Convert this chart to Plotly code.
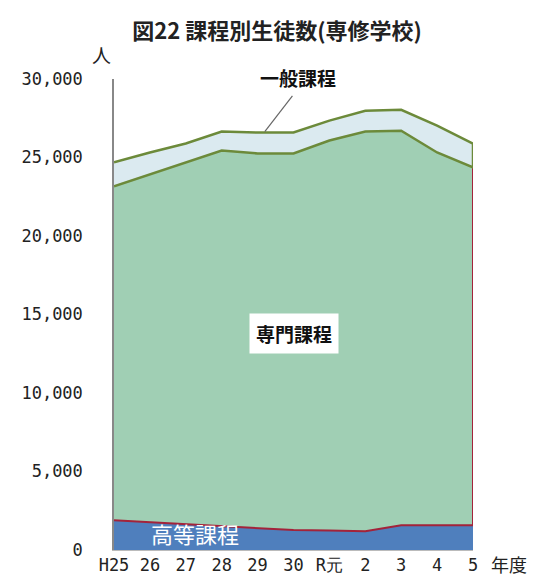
import plotly.graph_objects as go

years = ["H25", "26", "27", "28", "29", "30", "R元", "2", "3", "4", "5"]
koto = [1900, 1770, 1650, 1550, 1390, 1270, 1240, 1200, 1580, 1580, 1580]
senmon = [21270, 22160, 23040, 23900, 23870, 23990, 24840, 25450, 25130, 23740, 22790]
ippan = [1520, 1390, 1200, 1200, 1330, 1330, 1270, 1330, 1330, 1710, 1520]
y_ticks = [0, 5000, 10000, 15000, 20000, 25000, 30000]
y_labels = ["0", "5,000", "10,000", "15,000", "20,000", "25,000", "30,000"]

xs = list(range(len(years)))
c1 = koto
c2 = [a + b for a, b in zip(c1, senmon)]
c3 = [a + b for a, b in zip(c2, ippan)]

BLUE = "#4f7fbd"
GREEN = "#a0cfb4"
LBLUE = "#dbeaf0"
OLIVE = "#6c8a3a"
RED = "#a3233a"
JP = "Noto Sans CJK JP"
NUM = "DejaVu Sans Mono"

fig = go.Figure()
fig.add_trace(go.Scatter(x=xs, y=c1, fill="tozeroy", fillcolor=BLUE, mode="none",
                         hoverinfo="skip", showlegend=False))
fig.add_trace(go.Scatter(x=xs, y=c2, fill="tonexty", fillcolor=GREEN, mode="none",
                         hoverinfo="skip", showlegend=False))
fig.add_trace(go.Scatter(x=xs, y=c3, fill="tonexty", fillcolor=LBLUE, mode="none",
                         hoverinfo="skip", showlegend=False))
# red outline of 専門課程 (bottom + right edge)
fig.add_trace(go.Scatter(x=xs + [xs[-1]], y=c1 + [c2[-1]], mode="lines",
                         line=dict(color=RED, width=2), hoverinfo="skip", showlegend=False))
# olive outline of 一般課程 (top, right edge, bottom)
fig.add_trace(go.Scatter(x=xs + [xs[-1]] + xs[::-1], y=c3 + [c2[-1]] + c2[::-1], mode="lines",
                         line=dict(color=OLIVE, width=2.5), hoverinfo="skip", showlegend=False))

fig.add_annotation(xref="paper", yref="paper", x=0.5125, y=1.004, xanchor="center",
                   yanchor="middle", text="<b>一般課程</b>",
                   showarrow=False, font=dict(family=JP, size=19, color="#111"))
fig.add_shape(type="line", x0=4.97, y0=28930, x1=4.2, y1=26650,
              line=dict(color="#666", width=1.2))
fig.add_annotation(x=5.01, y=13800, text="<b>専門課程</b>", showarrow=False,
                   bgcolor="white", borderpad=6,
                   font=dict(family=JP, size=19, color="#111"))
fig.add_annotation(x=2.25, y=1100, text="高等課程", showarrow=False,
                   font=dict(family=JP, size=22, color="white"))
fig.add_annotation(xref="paper", yref="paper", x=-0.035, y=1.051, xanchor="center",
                   yanchor="middle", text="人",
                   showarrow=False, font=dict(family=JP, size=19, color="#222"))
fig.add_annotation(xref="paper", yref="paper", x=1.10, y=-0.03, xanchor="center",
                   yanchor="middle", text="年度",
                   showarrow=False, font=dict(family=JP, size=18, color="#222"))

fig.update_layout(
    width=538, height=579,
    margin=dict(l=106, r=73, t=71, b=34),
    paper_bgcolor="white", plot_bgcolor="white",
    title=dict(text="図22 課程別生徒数(専修学校)", x=0.5, xref="container",
               y=0.96, yanchor="middle", yref="container",
               font=dict(family=JP, size=22, color="#222", weight="bold")),
    xaxis=dict(range=[0, 10], tickvals=xs, ticktext=years, showgrid=False,
               zeroline=False, showline=True, linecolor="#bbbbbb", linewidth=1,
               ticks="", tickfont=dict(family=NUM, size=17, color="#222")),
    yaxis=dict(range=[0, 30000], tickvals=y_ticks, ticktext=y_labels, showgrid=False,
               zeroline=False, showline=True, linecolor="#888888", linewidth=1.5,
               ticks="", ticklabelstandoff=26,
               tickfont=dict(family=NUM, size=17, color="#222")),
)

fig.write_html("out.html")
